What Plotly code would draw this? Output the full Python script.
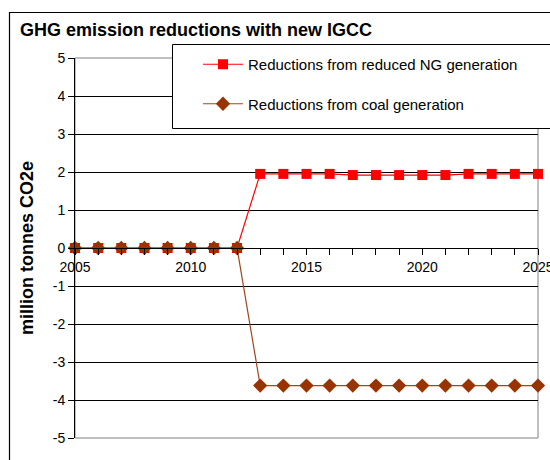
import plotly.graph_objects as go

years = list(range(2005, 2026))
ng_reductions = [0, 0, 0, 0, 0, 0, 0, 0,
                 1.95, 1.95, 1.95, 1.95, 1.92, 1.92, 1.92, 1.92, 1.92,
                 1.95, 1.95, 1.95, 1.95]
coal_reductions = [0, 0, 0, 0, 0, 0, 0, 0,
                   -3.62, -3.62, -3.62, -3.62, -3.62, -3.62, -3.62, -3.62, -3.62,
                   -3.62, -3.62, -3.62, -3.62]
y_ticks = [5, 4, 3, 2, 1, 0, -1, -2, -3, -4, -5]
x_ticks = [2005, 2010, 2015, 2020, 2025]

W, H = 550, 460
L, R, T, B = 75, 12, 58, 22
pw, ph = W - L - R, H - T - B


def px_x(x):
    return (x - L) / pw


def px_y(y):
    return (H - B - y) / ph


fig = go.Figure()
fig.add_trace(go.Scatter(
    x=years, y=ng_reductions, mode="lines+markers",
    name="Reductions from reduced NG generation", legendgroup="ng",
    line=dict(color="#FF0000", width=1.2),
    marker=dict(symbol="square", size=10, color="#FF0000"),
    cliponaxis=False,
))
fig.add_trace(go.Scatter(
    x=years, y=coal_reductions, mode="lines+markers",
    name="Reductions from coal generation", legendgroup="coal",
    line=dict(color="#A0461E", width=1.2),
    marker=dict(symbol="diamond", size=11, color="#993300"),
    cliponaxis=False,
))

font = dict(family="Liberation Sans, Arial, sans-serif", color="#000000")

fig.update_layout(
    width=W, height=H,
    margin=dict(l=L, r=R, t=T, b=B, pad=0, autoexpand=False),
    paper_bgcolor="white", plot_bgcolor="white",
    font=dict(size=13, **font),
    showlegend=True,
    legend=dict(
        x=px_x(198), y=px_y(48), xanchor="left", yanchor="top",
        bgcolor="rgba(0,0,0,0)", borderwidth=0,
        font=dict(size=15, **font),
        tracegroupgap=17, itemwidth=40,
    ),
    xaxis=dict(
        range=[2005, 2025], tickvals=x_ticks, ticktext=[str(v) for v in x_ticks],
        anchor="free", position=0.5, automargin=False,
        showgrid=False, zeroline=False,
        showline=True, linecolor="#000000", linewidth=1,
        ticks="outside", ticklen=6, tickcolor="#000000",
        ticklabeloverflow="allow",
        minor=dict(dtick=1, ticks="outside", ticklen=6, tickcolor="#000000", showgrid=False),
        tickfont=dict(size=14, **font),
    ),
    yaxis=dict(
        range=[-5, 5], tickvals=y_ticks, ticktext=[str(v) for v in y_ticks],
        automargin=False,
        showgrid=True, gridcolor="#000000", gridwidth=1,
        zeroline=False,
        showline=True, linecolor="#000000", linewidth=1,
        ticks="outside", ticklen=6, tickcolor="#000000",
        tickfont=dict(size=14, **font),
        title=dict(text="<b>million tonnes CO2e</b>", font=dict(size=18, **font), standoff=14),
    ),
    title=dict(
        text="<b>GHG emission reductions with new IGCC</b>",
        x=20 / W, xanchor="left", y=1 - 30 / H, yanchor="middle",
        font=dict(size=18, **font),
    ),
    shapes=[
        # plot-area frame
        dict(type="rect", xref="paper", yref="paper", x0=0, x1=1, y0=0, y1=1,
             line=dict(color="#808080", width=1), layer="below"),
        # outer chart frame
        dict(type="rect", xref="paper", yref="paper",
             x0=px_x(9.5), x1=px_x(560), y0=px_y(470), y1=px_y(12.5),
             line=dict(color="#000000", width=1.2), layer="above"),
        # legend frame
        dict(type="rect", xref="paper", yref="paper",
             x0=px_x(172.5), x1=px_x(560), y0=px_y(128.5), y1=px_y(44.5),
             line=dict(color="#000000", width=1), fillcolor="white", layer="above"),
    ],
)

fig.write_html("out.html")
